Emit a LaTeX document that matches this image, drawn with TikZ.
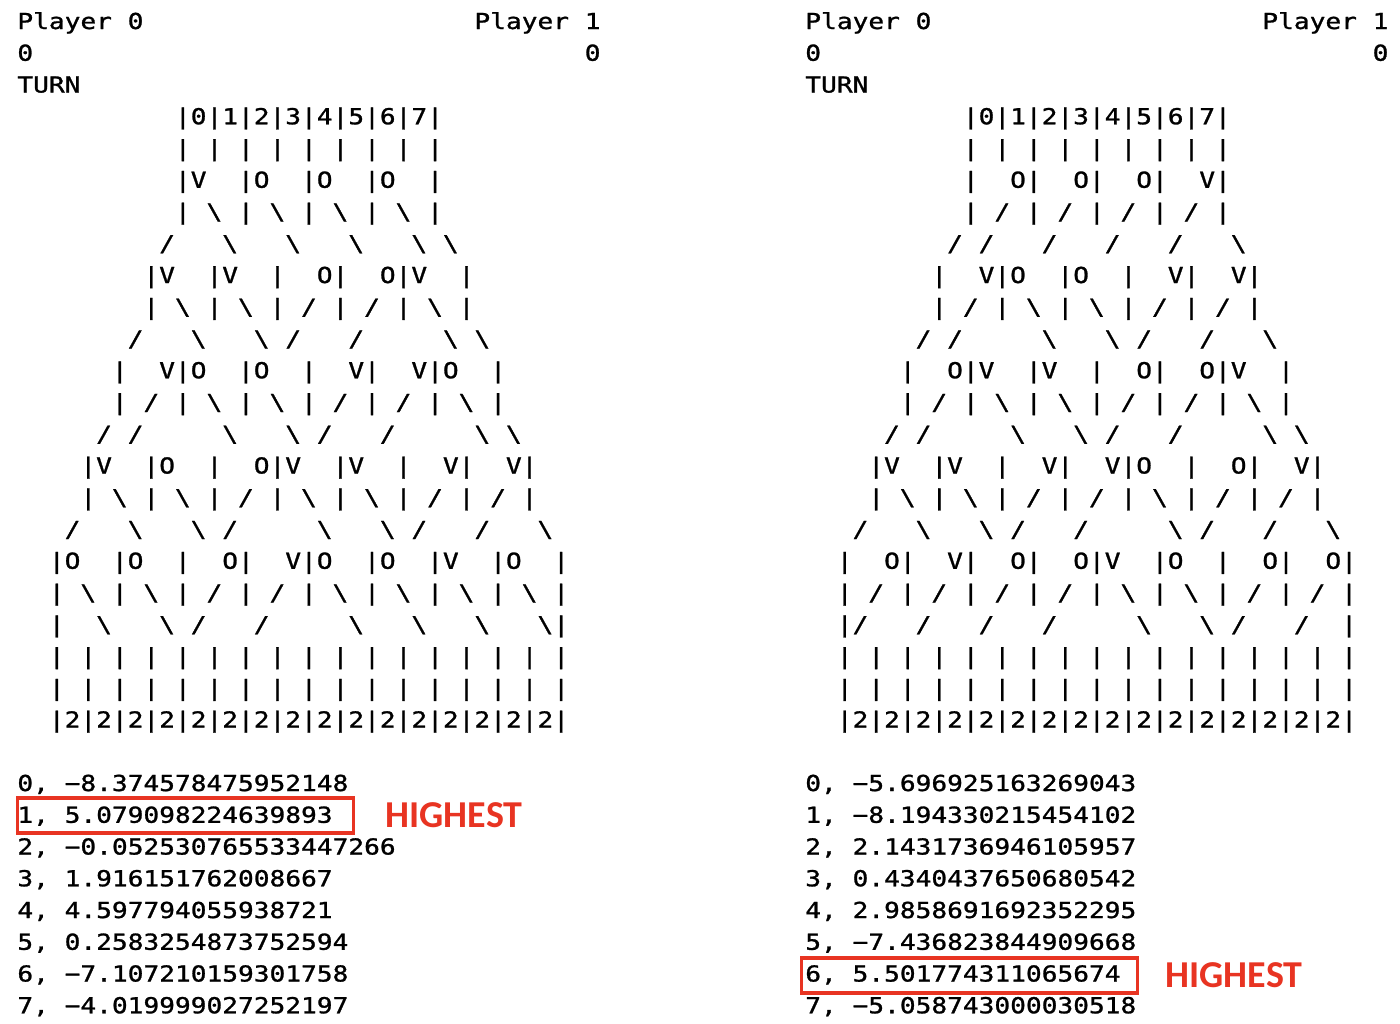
\documentclass[tikz,border=0pt]{standalone}
\usepackage{fontspec}
\usepackage{xcolor}
\usetikzlibrary{positioning}

\newfontfamily\termfont[FakeStretch=1.19, FakeBold=1.2]{DejaVu Sans Mono}
\newfontfamily\notefont{Carlito}
\definecolor{markred}{RGB}{232,52,34}
\newcommand\bsl{\textbackslash}

\begin{document}
\begin{tikzpicture}[x=7.88pt, y=-15.875pt,
    term/.style={anchor=base west, inner sep=0pt, font=\termfont\fontsize{11pt}{13pt}\selectfont},
    pick/.style={draw=markred, line width=1.8pt, minimum width=168pt, minimum height=17.25pt, anchor=north west, inner sep=0pt},
    note/.style={text=markred, inner sep=0pt, font=\notefont\bfseries\fontsize{19pt}{22pt}\selectfont}]
    \useasboundingbox (-8.5pt,14.5pt) rectangle (691.5pt,-497pt);

    % Left board: header
    \node [term] (l-p0) at (0,0) {Player 0};
    \node [term] (l-p1) at (29,0) {Player 1};
    \node [term] (l-s0) at (0,1) {0};
    \node [term] (l-s1) at (36,1) {0};
    \node [term] (l-turn) at (0,2) {TURN};

    % Left board: rows of gates
    \node [term] (l-r3) at (10,3) {|0|1|2|3|4|5|6|7|};
    \node [term] (l-r4) at (10,4) {|~|~|~|~|~|~|~|~|};
    \node [term] (l-r5) at (10,5) {|V~~|O~~|O~~|O~~|};
    \node [term] (l-r6) at (10,6) {|~\bsl~|~\bsl~|~\bsl~|~\bsl~|};
    \node [term] (l-r7) at (9,7) {/~~~\bsl~~~\bsl~~~\bsl~~~\bsl~\bsl};
    \node [term] (l-r8) at (8,8) {|V~~|V~~|~~O|~~O|V~~|};
    \node [term] (l-r9) at (8,9) {|~\bsl~|~\bsl~|~/~|~/~|~\bsl~|};
    \node [term] (l-r10) at (7,10) {/~~~\bsl~~~\bsl~/~~~/~~~~~\bsl~\bsl};
    \node [term] (l-r11) at (6,11) {|~~V|O~~|O~~|~~V|~~V|O~~|};
    \node [term] (l-r12) at (6,12) {|~/~|~\bsl~|~\bsl~|~/~|~/~|~\bsl~|};
    \node [term] (l-r13) at (5,13) {/~/~~~~~\bsl~~~\bsl~/~~~/~~~~~\bsl~\bsl};
    \node [term] (l-r14) at (4,14) {|V~~|O~~|~~O|V~~|V~~|~~V|~~V|};
    \node [term] (l-r15) at (4,15) {|~\bsl~|~\bsl~|~/~|~\bsl~|~\bsl~|~/~|~/~|};
    \node [term] (l-r16) at (3,16) {/~~~\bsl~~~\bsl~/~~~~~\bsl~~~\bsl~/~~~/~~~\bsl};
    \node [term] (l-r17) at (2,17) {|O~~|O~~|~~O|~~V|O~~|O~~|V~~|O~~|};
    \node [term] (l-r18) at (2,18) {|~\bsl~|~\bsl~|~/~|~/~|~\bsl~|~\bsl~|~\bsl~|~\bsl~|};
    \node [term] (l-r19) at (2,19) {|~~\bsl~~~\bsl~/~~~/~~~~~\bsl~~~\bsl~~~\bsl~~~\bsl|};
    \node [term] (l-r20) at (2,20) {|~|~|~|~|~|~|~|~|~|~|~|~|~|~|~|~|};
    \node [term] (l-r21) at (2,21) {|~|~|~|~|~|~|~|~|~|~|~|~|~|~|~|~|};
    \node [term] (l-r22) at (2,22) {|2|2|2|2|2|2|2|2|2|2|2|2|2|2|2|2|};

    % Left board: scores
    \foreach \v [count=\i from 0] in {−8.374578475952148, 5.079098224639893,
        −0.052530765533447266, 1.916151762008667, 4.597794055938721,
        0.2583254873752594, −7.107210159301758, −4.019999027252197}
        \node [term] (l-val\i) at (0,{24+\i}) {\i, \v};
    \node [pick] (l-box) at (-0.095,24.17) {};
    \node [note, right=15pt of l-box] (l-note) {HIGHEST};

    \begin{scope}[xshift=393.95pt]
    % Right board: header
    \node [term] (r-p0) at (0,0) {Player 0};
    \node [term] (r-p1) at (29,0) {Player 1};
    \node [term] (r-s0) at (0,1) {0};
    \node [term] (r-s1) at (36,1) {0};
    \node [term] (r-turn) at (0,2) {TURN};

    % Right board: rows of gates
    \node [term] (r-r3) at (10,3) {|0|1|2|3|4|5|6|7|};
    \node [term] (r-r4) at (10,4) {|~|~|~|~|~|~|~|~|};
    \node [term] (r-r5) at (10,5) {|~~O|~~O|~~O|~~V|};
    \node [term] (r-r6) at (10,6) {|~/~|~/~|~/~|~/~|};
    \node [term] (r-r7) at (9,7) {/~/~~~/~~~/~~~/~~~\bsl};
    \node [term] (r-r8) at (8,8) {|~~V|O~~|O~~|~~V|~~V|};
    \node [term] (r-r9) at (8,9) {|~/~|~\bsl~|~\bsl~|~/~|~/~|};
    \node [term] (r-r10) at (7,10) {/~/~~~~~\bsl~~~\bsl~/~~~/~~~\bsl};
    \node [term] (r-r11) at (6,11) {|~~O|V~~|V~~|~~O|~~O|V~~|};
    \node [term] (r-r12) at (6,12) {|~/~|~\bsl~|~\bsl~|~/~|~/~|~\bsl~|};
    \node [term] (r-r13) at (5,13) {/~/~~~~~\bsl~~~\bsl~/~~~/~~~~~\bsl~\bsl};
    \node [term] (r-r14) at (4,14) {|V~~|V~~|~~V|~~V|O~~|~~O|~~V|};
    \node [term] (r-r15) at (4,15) {|~\bsl~|~\bsl~|~/~|~/~|~\bsl~|~/~|~/~|};
    \node [term] (r-r16) at (3,16) {/~~~\bsl~~~\bsl~/~~~/~~~~~\bsl~/~~~/~~~\bsl};
    \node [term] (r-r17) at (2,17) {|~~O|~~V|~~O|~~O|V~~|O~~|~~O|~~O|};
    \node [term] (r-r18) at (2,18) {|~/~|~/~|~/~|~/~|~\bsl~|~\bsl~|~/~|~/~|};
    \node [term] (r-r19) at (2,19) {|/~~~/~~~/~~~/~~~~~\bsl~~~\bsl~/~~~/~~|};
    \node [term] (r-r20) at (2,20) {|~|~|~|~|~|~|~|~|~|~|~|~|~|~|~|~|};
    \node [term] (r-r21) at (2,21) {|~|~|~|~|~|~|~|~|~|~|~|~|~|~|~|~|};
    \node [term] (r-r22) at (2,22) {|2|2|2|2|2|2|2|2|2|2|2|2|2|2|2|2|};

    % Right board: scores
    \foreach \v [count=\i from 0] in {−5.696925163269043, −8.194330215454102,
        2.1431736946105957, 0.4340437650680542, 2.9858691692352295,
        −7.436823844909668, 5.501774311065674, −5.058743000030518}
        \node [term] (r-val\i) at (0,{24+\i}) {\i, \v};
    \node [pick] (r-box) at (-0.34,29.21) {};
    \node [note, right=13pt of r-box] (r-note) {HIGHEST};
    \end{scope}
\end{tikzpicture}
\end{document}
